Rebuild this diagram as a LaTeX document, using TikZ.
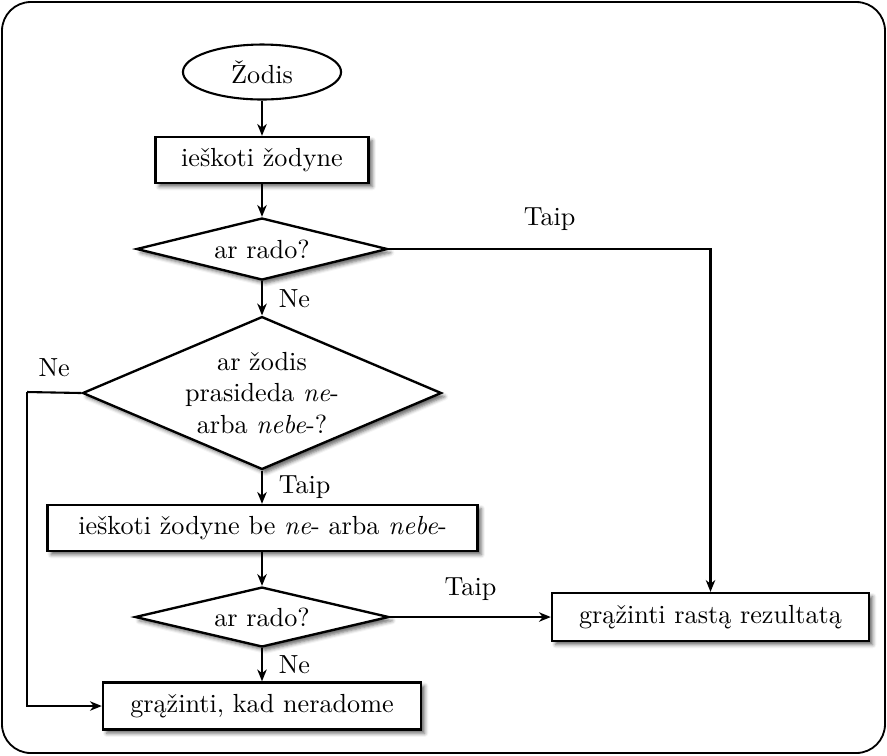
\documentclass[tikz,border=0pt]{standalone}
\usepackage{fontspec}
\usetikzlibrary{shapes.geometric,shadows.blur,arrows.meta}
\begin{document}
\begin{tikzpicture}[x=0.382pt,y=-0.382pt,
  conn/.style={line width=0.8pt,-{Stealth[length=4.5pt,width=3.6pt,inset=1.4pt]}},
  line/.style={line width=0.8pt},
  shad/.style={blur shadow={shadow xshift=1.4pt,shadow yshift=-1.4pt,shadow opacity=60,shadow blur radius=1.4pt}},
  procbox/.style={draw,line width=0.9pt,fill=white,rectangle,inner sep=0pt,shad},
  decision/.style={draw,line width=0.9pt,fill=white,diamond,inner sep=0pt,align=center,shad},
  startnode/.style={draw,line width=0.8pt,fill=white,ellipse,inner sep=0pt},
  lbl/.style={inner sep=3.33pt}]
  \useasboundingbox (0,0) rectangle (887,755);
  \draw[line width=0.7pt,rounded corners=11pt] (2,2) rectangle (885,753);

  % nodes
  \node[startnode,minimum width=60.4pt,minimum height=21pt] (start) at (262,72) {Žodis};
  \node[procbox,minimum width=81.4pt,minimum height=17.6pt] (b1) at (262,160) {ieškoti žodyne};
  \node[decision,aspect=4.05,minimum width=95.9pt,minimum height=23.7pt] (d1) at (262,249) {ar rado?};
  \node[decision,aspect=2.35,minimum width=137.1pt,minimum height=58.4pt] (d2) at (262,393)
       {ar žodis\\prasideda \textit{ne}-\\arba \textit{nebe}-?};
  \node[procbox,minimum width=164.3pt,minimum height=17.6pt] (b2) at (262.5,528)
       {ieškoti žodyne be \textit{ne}- arba \textit{nebe}-};
  \node[decision,aspect=4.23,minimum width=97pt,minimum height=22.9pt] (d3) at (262,617) {ar rado?};
  \node[procbox,minimum width=121.5pt,minimum height=18pt] (b3) at (262,706) {grąžinti, kad neradome};
  \node[procbox,minimum width=121.1pt,minimum height=18.3pt] (b4) at (710.5,617) {grąžinti rastą rezultatą};
  \coordinate (lt) at (27,392);

  % connectors
  \draw[conn] (start) -- (b1);
  \draw[conn] (b1) -- (d1);
  \draw[conn] (d1) -- node[lbl,right=2.7pt] {Ne} (d2);
  \draw[conn] (d1.east) -| node[lbl,pos=0.25,above=3.2pt] {Taip} (b4.north);
  \draw[conn] (d2) -- node[lbl,right=2.7pt] {Taip} (b2.north -| d2);
  \draw[line] (d2.west) -- node[lbl,above=2.4pt] {Ne} (lt);
  \draw[conn] (lt) |- (b3.west);
  \draw[conn] (b2.south -| d3) -- (d3);
  \draw[conn] (d3) -- node[lbl,right=2.7pt] {Ne} (b3);
  \draw[conn] (d3.east) -- node[lbl,above=2.4pt] {Taip} (b4.west);
\end{tikzpicture}
\end{document}
